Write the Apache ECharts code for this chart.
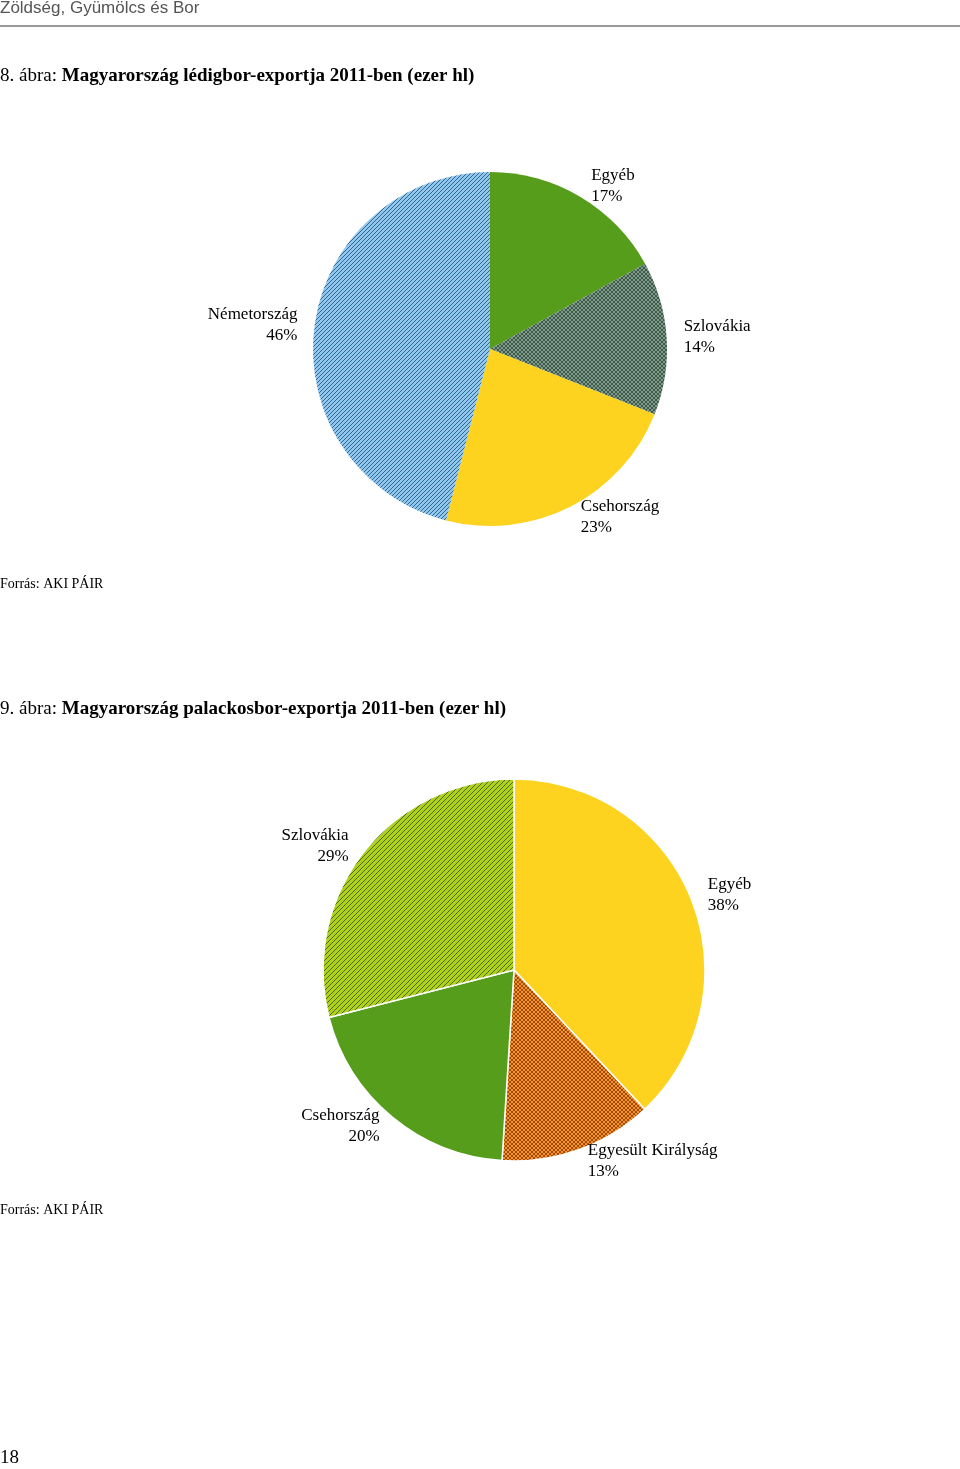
<!DOCTYPE html>
<html><head><meta charset="utf-8">
<script src="https://cdn.jsdelivr.net/npm/echarts@6/dist/echarts.min.js"></script>
<style>html,body{margin:0;padding:0;background:#fff}#c{width:960px;height:1469px}</style>
</head><body><div id="c"></div>
<script>
const cats1 = ['Egyéb','Szlovákia','Csehország','Németország'];
const vals1 = [17,14,23,46];
const cats2 = ['Egyéb','Egyesült Királyság','Csehország','Szlovákia'];
const vals2 = [38,13,20,29];

function pat(bg, fg, cross, step){
  const c=document.createElement('canvas'); c.width=step; c.height=step;
  const g=c.getContext('2d'); g.fillStyle=bg; g.fillRect(0,0,step,step);
  g.strokeStyle=fg; g.lineWidth=0.8;
  g.beginPath();
  g.moveTo(0,step); g.lineTo(step,0);
  g.moveTo(-step/2,step/2); g.lineTo(step/2,-step/2);
  g.moveTo(step/2,step*1.5); g.lineTo(step*1.5,step/2);
  if(cross){ g.moveTo(0,0); g.lineTo(step,step);
    g.moveTo(-step/2,step/2); g.lineTo(step/2,step*1.5);
    g.moveTo(step/2,-step/2); g.lineTo(step*1.5,step/2);}
  g.stroke();
  return {image:c, repeat:'repeat'};
}
const col1=['#579d1c', pat('#7f9a88','#2d4a3a',true,4),'#fdd320', pat('#8dc8f2','#2a4a6a',false,4)];
const col2=['#fdd320', pat('#f5922a','#8a3a00',true,4),'#579d1c', pat('#aed11c','#3a4a0a',false,5)];
const font='Liberation Serif';
function series(cats, vals, cols, center, r, border){
  return {type:'pie', center:center, radius:r, startAngle:90, clockwise:true,
    data:cats.map((n,i)=>({name:n,value:vals[i],itemStyle:{color:cols[i]}})),
    itemStyle:{borderColor:'#fff',borderWidth:border},
    label:{position:'outside',formatter:'{b}\n{d}%',fontFamily:font,fontSize:17,color:'#000',lineHeight:21,align:'left'},
    labelLine:{show:false,length:12,length2:0}, emphasis:{disabled:true}, animation:false};
}
const chart=echarts.init(document.getElementById('c'));
chart.setOption({
  animation:false,
  graphic:[
    {type:'text',left:0,top:0,style:{text:'Zöldség, Gyümölcs és Bor',font:'17px Arial',fill:'#555'}},
    {type:'rect',shape:{x:0,y:25,width:960,height:2},style:{fill:'#999'}},
    {type:'text',left:0,top:67,style:{text:'{n|8. ábra: }{b|Magyarország lédigbor-exportja 2011-ben (ezer hl)}',rich:{n:{fontFamily:font,fontSize:19},b:{fontFamily:font,fontSize:19,fontWeight:'bold'}}}},
    {type:'text',left:0,top:577,style:{text:'Forrás: AKI PÁIR',font:'14px "Liberation Serif"',fill:'#000'}},
    {type:'text',left:0,top:700,style:{text:'{n|9. ábra: }{b|Magyarország palackosbor-exportja 2011-ben (ezer hl)}',rich:{n:{fontFamily:font,fontSize:19},b:{fontFamily:font,fontSize:19,fontWeight:'bold'}}}},
    {type:'text',left:0,top:1203,style:{text:'Forrás: AKI PÁIR',font:'14px "Liberation Serif"',fill:'#000'}},
    {type:'text',left:0,top:1449,style:{text:'18',font:'19px "Liberation Serif"',fill:'#000'}}
  ],
  series:[
    series(cats1,vals1,col1,[490,349],177,0),
    series(cats2,vals2,col2,[514,970],191,1.5)
  ]
});
</script></body></html>
